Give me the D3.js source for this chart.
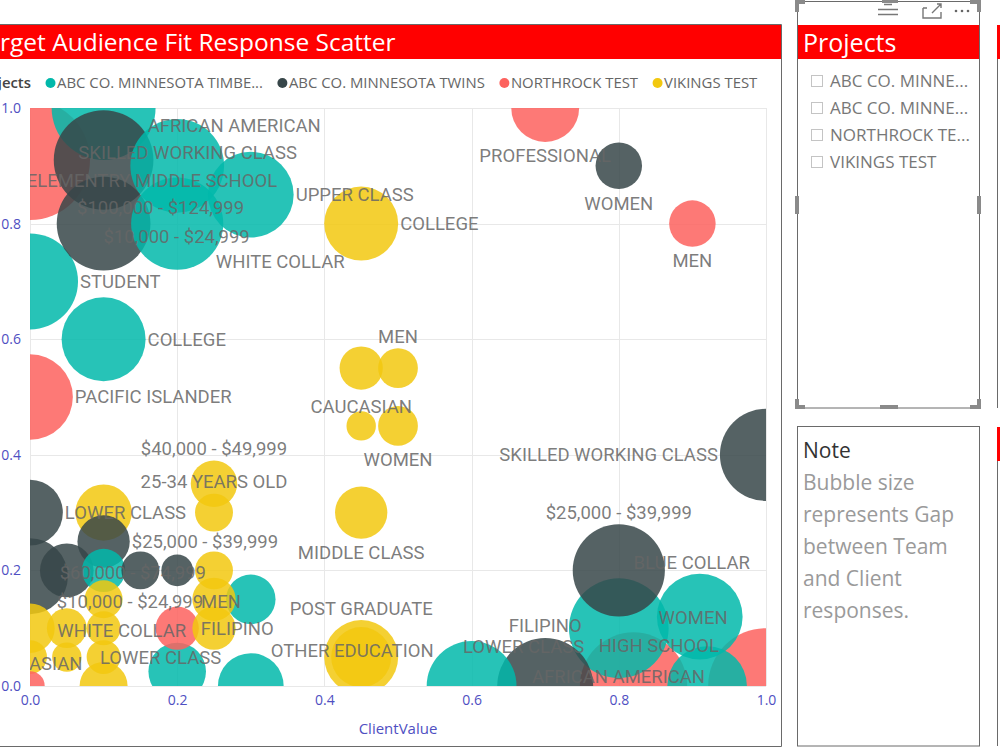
<!DOCTYPE html>
<html>
<head>
<meta charset="utf-8">
<script src="https://cdn.jsdelivr.net/npm/d3@7"></script>
<style>
  body { margin: 0; background: #fff; }
  svg { display: block; font-family: "Segoe UI", "Open Sans", sans-serif; }
</style>
</head>
<body>
<div id="chart"></div>
<script>
// ---- data ----------------------------------------------------------
const PROJECTS = ['ABC CO. MINNESOTA TIMBERWOLVES', 'ABC CO. MINNESOTA TWINS', 'NORTHROCK TEST', 'VIKINGS TEST'];
const PROJECT_COLORS = ['#01B8AA', '#374649', '#FD625E', '#F2C80F'];

const CATEGORY = [
  // timberwolves
  'SKILLED WORKING CLASS', 'AFRICAN AMERICAN', 'UPPER CLASS', 'WHITE COLLAR', 'STUDENT', 'COLLEGE',
  'MEN', 'ASIAN', 'POST GRADUATE', 'FILIPINO', 'LOWER CLASS', 'HIGH SCHOOL', 'BLUE COLLAR', 'WOMEN',
  // twins
  '$100,000 - $124,999', '$10,000 - $24,999', 'WOMEN', 'SKILLED WORKING CLASS', 'LOWER CLASS',
  '$25,000 - $39,999', '$10,000 - $24,999', '$60,000 - $74,999', '$40,000 - $49,999',
  '$50,000 - $59,999', '$25,000 - $39,999', 'FILIPINO',
  // northrock
  'ELEMENTRY MIDDLE SCHOOL', 'PACIFIC ISLANDER', 'PROFESSIONAL', 'MEN', 'FILIPINO',
  'AFRICAN AMERICAN', 'WOMEN', 'STUDENT',
  // vikings
  'COLLEGE', 'UPPER CLASS', 'MEN', 'CAUCASIAN', 'WOMEN', 'MIDDLE CLASS', 'POST GRADUATE',
  'OTHER EDUCATION', '$40,000 - $49,999', '25-34 YEARS OLD', 'HIGH SCHOOL', '$25,000 - $39,999',
  'MEN', 'FILIPINO', 'STUDENT', 'AFRICAN AMERICAN', 'WHITE COLLAR', 'SKILLED WORKING CLASS',
  'ASIAN', 'PROFESSIONAL', 'LOWER CLASS', 'PACIFIC ISLANDER'
];
const PROJECT = [
  0, 0, 0, 0, 0, 0, 0, 0, 0, 0, 0, 0, 0, 0,
  1, 1, 1, 1, 1, 1, 1, 1, 1, 1, 1, 1,
  2, 2, 2, 2, 2, 2, 2, 2,
  3, 3, 3, 3, 3, 3, 3, 3, 3, 3, 3, 3, 3, 3, 3, 3, 3, 3, 3, 3, 3, 3
];
const CLIENT_VALUE = [
  0.10, 0.20, 0.30, 0.20, 0.00, 0.10, 0.10, 0.30, 0.30, 0.20, 0.60, 0.80, 0.91, 0.92,
  0.10, 0.10, 0.80, 1.00, 0.00, 0.10, 0.00, 0.05, 0.15, 0.20, 0.80, 0.70,
  0.00, 0.00, 0.70, 0.90, 0.20, 0.82, 1.00, 0.00,
  0.45, 0.45, 0.50, 0.45, 0.50, 0.45, 0.45, 0.45, 0.25, 0.25, 0.10, 0.25,
  0.25, 0.25, 0.10, 0.00, 0.05, 0.10, 0.05, 0.00, 0.10, 0.10
];
const TEAM_VALUE = [
  1.00, 0.90, 0.85, 0.80, 0.70, 0.60, 0.20, 0.15, 0.00, 0.025, 0.00, 0.10, 0.12, 0.00,
  0.91, 0.80, 0.90, 0.40, 0.30, 0.25, 0.19, 0.20, 0.20, 0.20, 0.20, 0.00,
  0.91, 0.50, 1.00, 0.80, 0.10, 0.00, 0.00, 0.00,
  0.80, 0.55, 0.55, 0.45, 0.45, 0.30, 0.05, 0.05, 0.35, 0.30, 0.30, 0.20,
  0.15, 0.10, 0.15, 0.10, 0.10, 0.10, 0.05, 0.05, 0.05, 0.00
];
const GAP = [
  0.75, 0.61, 0.51, 0.59, 0.64, 0.49, 0.13, 0.17, 0.30, 0.23, 0.56, 0.69, 0.51, 0.44,
  0.69, 0.61, 0.15, 0.59, 0.30, 0.19, 0.40, 0.20, 0.10, 0.07, 0.59, 0.64,
  1.00, 0.51, 0.32, 0.15, 0.13, 0.80, 0.93, 0.06,
  0.38, 0.13, 0.11, 0.06, 0.11, 0.19, 0.38, 0.25, 0.15, 0.10, 0.22, 0.10,
  0.13, 0.13, 0.10, 0.17, 0.11, 0.08, 0.06, 0.08, 0.08, 0.16
];
const X_TICKS = [0, 0.2, 0.4, 0.6, 0.8, 1.0];
const Y_TICKS = [0, 0.2, 0.4, 0.6, 0.8, 1.0];
const NOTE_LINES = ['Bubble size', 'represents Gap', 'between Team', 'and Client', 'responses.'];

// where each category label ended up (Power BI shuffles them to dodge each other)
// 't' above, 'b' below, 'r' right, 'l' left, 'c' centred, [dx, dy] free, null hidden
const LABEL_SPOT = [
  [84, 45], [57, -40], 'r', [103, 38], 'r', 'r', null, null, null, null, [52, -39], [40, 17], [-8, -54], [-14, -68],
  [57, 48], [73, 13], 'b', 'l', 'r', 'r', [100, 25], [66, 2], null, null, 't', 't',
  [122, 21], 'r', 'b', 'b', 'r', [-15, -9], null, null,
  'r', null, 't', [0, -19], 'b', 'b', 't', [-9, -7], 't', 't', null, null,
  [7, 2], null, null, null, [55, 2], null, [-11, 6], null, [57, 0], null
];

// ---- layout --------------------------------------------------------
const W = 1000, H = 750;
const PLOT = { left: 30, top: 108, width: 736, height: 578 };
const AXIS_BLUE = '#4f4fc2';
const LABEL_FONT = 'Roboto, "DejaVu Sans", sans-serif';

const svg = d3.select('#chart').append('svg').attr('width', W).attr('height', H);
svg.append('rect').attr('width', W).attr('height', H).attr('fill', '#fff');

function fitText(node, maxW) {
  const t = d3.select(node);
  let s = t.text();
  if (node.getComputedTextLength() <= maxW) return;
  while (s.length) {
    s = s.slice(0, -1).trimEnd();
    t.text(s + '...');
    if (node.getComputedTextLength() <= maxW) break;
  }
}

// ---- scatter panel -------------------------------------------------
const panel = svg.append('g');
panel.append('rect').attr('x', 0).attr('y', 25).attr('width', 781).attr('height', 34).attr('fill', '#FF0000');
panel.append('path')
  .attr('d', 'M0,24.5H781.5V746.5H0')
  .attr('fill', 'none').attr('stroke', '#6a6a6a').attr('stroke-width', 1);

const title = panel.append('text')
  .attr('y', 51).attr('fill', '#fff').attr('font-size', 24.5)
  .text('Target Audience Fit Response Scatter');
title.attr('x', -title.node().getSubStringLength(0, 2));

// legend
const legend = panel.append('g').attr('transform', 'translate(0,83)')
  .attr('font-size', 14.9);
legend.append('text').attr('x', 31).attr('text-anchor', 'end').attr('dy', '0.35em')
  .attr('fill', '#444').attr('font-weight', 600).text('Projects');
let lx = 50;
PROJECTS.forEach((p, i) => {
  legend.append('circle').attr('cx', lx + 0.5).attr('cy', 0).attr('r', 5).attr('fill', PROJECT_COLORS[i]);
  const t = legend.append('text').attr('x', lx + 7).attr('dy', '0.35em').attr('fill', '#666').text(p);
  fitText(t.node(), 208);
  lx += 7 + t.node().getComputedTextLength() + 19;
});

// plot
const x = d3.scaleLinear().domain([0, 1]).range([0, PLOT.width]);
const y = d3.scaleLinear().domain([0, 1]).range([PLOT.height, 0]);
const r = d3.scaleSqrt().domain([0, 1]).range([0, 60]);

const plot = panel.append('g').attr('transform', `translate(${PLOT.left},${PLOT.top})`);
svg.append('defs').append('clipPath').attr('id', 'plot-clip')
  .append('rect').attr('width', PLOT.width).attr('height', PLOT.height);

plot.append('g').selectAll('line').data(Y_TICKS).join('line')
  .attr('x1', 0).attr('x2', PLOT.width)
  .attr('y1', d => Math.round(y(d)) + 0.5).attr('y2', d => Math.round(y(d)) + 0.5)
  .attr('stroke', '#e8e8e8');
plot.append('g').selectAll('line').data(X_TICKS).join('line')
  .attr('y1', 0).attr('y2', PLOT.height)
  .attr('x1', d => Math.round(x(d)) + 0.5).attr('x2', d => Math.round(x(d)) + 0.5)
  .attr('stroke', '#e8e8e8');

const yAx = plot.append('g')
  .call(d3.axisLeft(y).tickValues(Y_TICKS).tickFormat(d3.format('.1f')).tickSize(0).tickPadding(9));
const xAx = plot.append('g').attr('transform', `translate(0,${PLOT.height})`)
  .call(d3.axisBottom(x).tickValues(X_TICKS).tickFormat(d3.format('.1f')).tickSize(0).tickPadding(9));
[yAx, xAx].forEach(a => {
  a.select('.domain').remove();
  a.selectAll('text').attr('fill', AXIS_BLUE).attr('font-size', 14)
    .attr('font-family', '"Segoe UI", "Open Sans", sans-serif');
});
plot.append('text').attr('x', PLOT.width / 2).attr('y', PLOT.height + 48)
  .attr('text-anchor', 'middle').attr('fill', AXIS_BLUE).attr('font-size', 15)
  .text('ClientValue');

const bubbles = CATEGORY.map((c, i) => ({
  cat: c, p: PROJECT[i], cx: x(CLIENT_VALUE[i]), cy: y(TEAM_VALUE[i]), r: r(GAP[i]), spot: LABEL_SPOT[i]
}));
// Power BI paints big bubbles first so small ones stay on top
const ordered = bubbles.slice().sort((a, b) => b.r - a.r);

const marks = plot.append('g').attr('clip-path', 'url(#plot-clip)');
marks.selectAll('circle').data(ordered).join('circle')
  .attr('cx', d => d.cx).attr('cy', d => d.cy).attr('r', d => d.r)
  .attr('fill', d => PROJECT_COLORS[d.p]).attr('fill-opacity', 0.85);

function labelAt(d) {
  const s = d.spot;
  if (Array.isArray(s)) return { x: d.cx + s[0], y: d.cy + s[1], a: 'middle' };
  if (s === 't') return { x: d.cx, y: d.cy - d.r - 12, a: 'middle' };
  if (s === 'b') return { x: d.cx, y: d.cy + d.r + 14, a: 'middle' };
  if (s === 'r') return { x: d.cx + d.r + 2, y: d.cy, a: 'start' };
  if (s === 'l') return { x: d.cx - d.r - 2, y: d.cy, a: 'end' };
  return { x: d.cx, y: d.cy, a: 'middle' };
}

marks.append('g').selectAll('text').data(bubbles.filter(d => d.spot)).join('text')
  .each(function (d) {
    const p = labelAt(d);
    d3.select(this).attr('x', p.x).attr('y', p.y).attr('text-anchor', p.a);
  })
  .attr('dy', '0.35em')
  .attr('font-family', LABEL_FONT).attr('font-size', 18.5)
  .attr('fill', '#666').attr('fill-opacity', 0.85)
  .text(d => d.cat);

// ---- projects slicer -----------------------------------------------
const slicer = svg.append('g');
slicer.append('rect').attr('x', 797.5).attr('y', 1.5).attr('width', 182).attr('height', 406.5)
  .attr('fill', '#fff').attr('stroke', '#6a6a6a');
slicer.append('rect').attr('x', 798).attr('y', 25).attr('width', 181).attr('height', 34).attr('fill', '#FF0000');
slicer.append('text').attr('x', 803).attr('y', 52).attr('fill', '#fff').attr('font-size', 25).text('Projects');

const items = slicer.append('g');
PROJECTS.forEach((p, i) => {
  const yy = 81 + i * 27;
  items.append('rect').attr('x', 811.5).attr('y', yy - 5.5).attr('width', 11).attr('height', 11)
    .attr('fill', '#fff').attr('stroke', '#c4c4c4');
  const t = items.append('text').attr('x', 830).attr('y', yy).attr('dy', '0.35em')
    .attr('font-size', 17).attr('fill', '#777').text(p);
  fitText(t.node(), 142);
});

// header icons
const icons = slicer.append('g').attr('stroke', '#777').attr('fill', 'none').attr('stroke-width', 1.4);
icons.append('path').attr('d', 'M884,4.5H892M878,9.5H898M878,14.5H898');
icons.append('path').attr('d', 'M923,8V18H933M923,8H927M937,4H941V8M941,4L932,13M929,18H941V12');
slicer.append('g').selectAll('circle').data([956, 962, 968]).join('circle')
  .attr('cx', d => d).attr('cy', 11).attr('r', 1.3).attr('fill', '#666');

// selection handles
const hs = slicer.append('g').attr('fill', '#8a8a8a');
[[795, 0, 4, 12], [795, 0, 10, 4], [977, 0, 4, 12], [970, 0, 10, 4],
 [795, 399, 4, 10], [795, 405, 10, 4], [977, 399, 4, 10], [970, 405, 10, 4],
 [795, 196, 4, 18], [977, 196, 4, 18], [880, 405, 18, 4], [882, 0, 16, 3]]
  .forEach(([hx, hy, hw, hh]) => hs.append('rect').attr('x', hx).attr('y', hy).attr('width', hw).attr('height', hh));

// ---- note card -----------------------------------------------------
const note = svg.append('g');
note.append('rect').attr('x', 797.5).attr('y', 426.5).attr('width', 182).attr('height', 319.5)
  .attr('fill', '#fff').attr('stroke', '#6a6a6a');
note.append('text').attr('x', 803).attr('y', 458).attr('font-size', 21).attr('fill', '#333').text('Note');
note.append('g').selectAll('text').data(NOTE_LINES).join('text')
  .attr('x', 803).attr('y', (d, i) => 490 + i * 32)
  .attr('font-size', 21).attr('fill', '#9a9a9a').text(d => d);

// neighbouring visuals peeking in on the right
const edge = svg.append('g');
edge.append('path').attr('d', 'M997.5,25V408M997.5,427V746')
  .attr('stroke', '#6a6a6a').attr('fill', 'none');
edge.append('rect').attr('x', 997).attr('y', 25).attr('width', 3).attr('height', 34).attr('fill', '#FF0000');
edge.append('rect').attr('x', 997).attr('y', 427).attr('width', 3).attr('height', 34).attr('fill', '#FF0000');
</script>
</body>
</html>
